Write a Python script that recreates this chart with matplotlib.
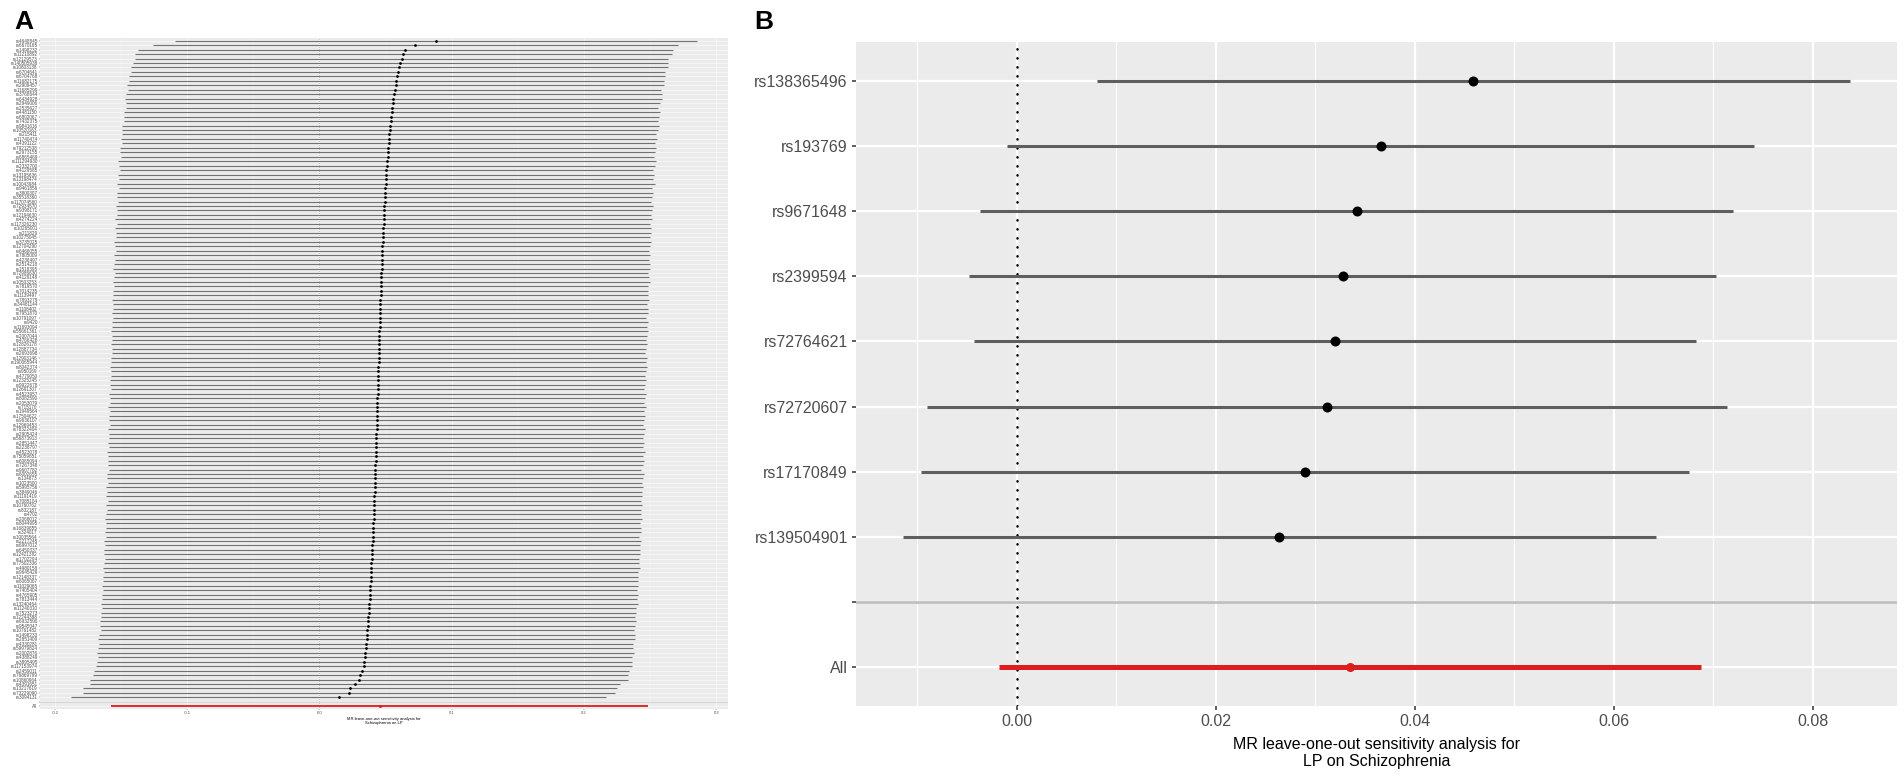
import matplotlib
matplotlib.use("Agg")
import matplotlib.pyplot as plt
import numpy as np

plt.rcParams["font.family"] = ["Liberation Sans", "DejaVu Sans"]

# ---------------------------------------------------------------- panel A data
# leave-one-out estimates, top row first (labels are illegible in the source)
SNPS_A = """
rs4648845 rs6670165 rs1498232 rs11210892 rs12129573 rs140505938 rs10803138 rs6704641 rs6704768 rs11682175
rs2909457 rs11685299 rs3768644 rs6434928 rs2949006 rs2535627 rs4481150 rs6802067 rs7432375 rs9841616
rs10520163 rs215411 rs11740474 rs4391122 rs79212538 rs2973155 rs6865469 rs111294930 rs2332700 rs4129585
rs13195636 rs13198474 rs10043984 rs9461856 rs3800307 rs35518360 rs117074560 rs72934570 rs9398171 rs12194630
rs4274224 rs117326230 rs10265001 rs211829 rs10275045 rs3735025 rs12704290 rs6466055 rs7805009 rs4236497
rs2514218 rs1518395 rs72986630 rs4129148 rs10503253 rs7819570 rs7014235 rs11139497 rs7893279 rs34481144
rs1108402 rs7951870 rs10791097 rs9420 rs11693094 rs55661361 rs2007044 rs4766428 rs12826178 rs12887734
rs2693698 rs12903146 rs190065944 rs8042374 rs950169 rs4779050 rs12325245 rs9922678 rs12691307 rs4523957
rs8082590 rs2053079 rs715170 rs1949564 rs17504622 rs9636107 rs12969453 rs78322404 rs2905424 rs56873913
rs2851447 rs2238797 rs4523078 rs75059851 rs6065094 rs7267348 rs9607782 rs6002655 rs134873 rs1023500
rs5995756 rs3849046 rs11191419 rs7085104 rs10760762 rs832187 rs4702 rs2068012 rs8044995 rs16839855
rs324017 rs10035564 rs2217245 rs6997012 rs6450337 rs12421382 rs1702294 rs77502336 rs4980158 rs9645429
rs12148337 rs6065007 rs11029065 rs7405404 rs4765905 rs7813444 rs13240464 rs11240310 rs7523273 rs12244388
rs6932590 rs9545047 rs10761482 rs1498233 rs2851409 rs4330281 rs59979824 rs2002876 rs4388249 rs3895495
rs117153974 rs2459011 rs76869799 rs10860964 rs4391651 rs13217619 rs73229090 rs3094131
""".split()

B_A = [
    0.0881, 0.0725, 0.0649, 0.0634, 0.0622, 0.0612, 0.0603, 0.0595, 0.0588, 0.0581,
    0.0575, 0.0569, 0.0564, 0.0559, 0.0554, 0.0550, 0.0546, 0.0542, 0.0538, 0.0535,
    0.0532, 0.0528, 0.0525, 0.0522, 0.0519, 0.0516, 0.0514, 0.0511, 0.0509, 0.0506,
    0.0504, 0.0502, 0.0500, 0.0498, 0.0496, 0.0494, 0.0492, 0.0490, 0.0489, 0.0487,
    0.0485, 0.0484, 0.0482, 0.0481, 0.0479, 0.0478, 0.0476, 0.0475, 0.0474, 0.0472,
    0.0471, 0.0470, 0.0468, 0.0467, 0.0466, 0.0465, 0.0463, 0.0462, 0.0461, 0.0460,
    0.0459, 0.0458, 0.0456, 0.0455, 0.0454, 0.0453, 0.0452, 0.0451, 0.0450, 0.0449,
    0.0448, 0.0447, 0.0446, 0.0445, 0.0444, 0.0443, 0.0442, 0.0441, 0.0440, 0.0439,
    0.0438, 0.0437, 0.0436, 0.0435, 0.0434, 0.0433, 0.0432, 0.0431, 0.0430, 0.0429,
    0.0428, 0.0427, 0.0426, 0.0425, 0.0424, 0.0423, 0.0422, 0.0421, 0.0420, 0.0419,
    0.0417, 0.0416, 0.0415, 0.0414, 0.0413, 0.0411, 0.0410, 0.0409, 0.0407, 0.0406,
    0.0404, 0.0403, 0.0401, 0.0400, 0.0398, 0.0397, 0.0395, 0.0393, 0.0391, 0.0390,
    0.0388, 0.0386, 0.0384, 0.0382, 0.0380, 0.0378, 0.0376, 0.0374, 0.0372, 0.0369,
    0.0367, 0.0364, 0.0362, 0.0359, 0.0356, 0.0353, 0.0350, 0.0347, 0.0343, 0.0339,
    0.0335, 0.0318, 0.0307, 0.0299, 0.0269, 0.0231, 0.0223, 0.0145,
]

SE_A = [
    0.1005, 0.1013, 0.1030, 0.1034, 0.1027, 0.1032, 0.1036, 0.1029, 0.1033, 0.1031,
    0.1035, 0.1028, 0.1032, 0.1037, 0.1030, 0.1026, 0.1034, 0.1031, 0.1029, 0.1036,
    0.1032, 0.1030, 0.1035, 0.1027, 0.1033, 0.1031, 0.1029, 0.1036, 0.1032, 0.1028,
    0.1034, 0.1030, 0.1037, 0.1029, 0.1033, 0.1031, 0.1026, 0.1035, 0.1032, 0.1030,
    0.1036, 0.1028, 0.1033, 0.1031, 0.1029, 0.1035, 0.1032, 0.1027, 0.1034, 0.1030,
    0.1033, 0.1036, 0.1029, 0.1031, 0.1035, 0.1028, 0.1032, 0.1030, 0.1037, 0.1029,
    0.1031, 0.1034, 0.1027, 0.1033, 0.1030, 0.1036, 0.1032, 0.1029, 0.1035, 0.1031,
    0.1028, 0.1033, 0.1030, 0.1036, 0.1032, 0.1029, 0.1034, 0.1031, 0.1027, 0.1035,
    0.1032, 0.1030, 0.1036, 0.1029, 0.1033, 0.1031, 0.1028, 0.1035, 0.1032, 0.1030,
    0.1034, 0.1029, 0.1037, 0.1031, 0.1033, 0.1030, 0.1026, 0.1035, 0.1032, 0.1029,
    0.1036, 0.1031, 0.1033, 0.1028, 0.1034, 0.1030, 0.1032, 0.1036, 0.1029, 0.1031,
    0.1033, 0.1027, 0.1035, 0.1030, 0.1032, 0.1034, 0.1029, 0.1031, 0.1036, 0.1028,
    0.1032, 0.1030, 0.1034, 0.1029, 0.1033, 0.1031, 0.1035, 0.1028, 0.1032, 0.1030,
    0.1034, 0.1031, 0.1029, 0.1033, 0.1036, 0.1030, 0.1032, 0.1035, 0.1029, 0.1031,
    0.1034, 0.1033, 0.1031, 0.1036, 0.1022, 0.1030, 0.1027, 0.1031,
]

ALL_B_A = 0.0455
ALL_SE_A = 0.1035
TICKS_A = [-0.2, -0.1, 0.0, 0.1, 0.2, 0.3]
XLABEL_A = "MR leave-one-out sensitivity analysis for\nSchizophrenia on LP"

# ---------------------------------------------------------------- panel B data
SNPS_B = ["rs138365496", "rs193769", "rs9671648", "rs2399594",
          "rs72764621", "rs72720607", "rs17170849", "rs139504901"]
B_B = [0.0459, 0.0366, 0.0342, 0.0328, 0.0320, 0.0312, 0.0290, 0.0264]
SE_B = [0.01930, 0.01915, 0.01930, 0.01915, 0.01850, 0.02050, 0.01970, 0.01930]
ALL_B_B = 0.0335
ALL_SE_B = 0.0180
TICKS_B = [0.00, 0.02, 0.04, 0.06, 0.08]
XLABEL_B = "MR leave-one-out sensitivity analysis for\nLP on Schizophrenia"

RED = "#DC1E1E"
W, H = 1904, 782


def draw_loo(ax, snps, b, se, all_b, all_se, xticks, fmt, xlabel, st):
    b = np.asarray(b)
    se = np.asarray(se)
    assert len(snps) == len(b) == len(se)
    lo, hi = b - 1.96 * se, b + 1.96 * se
    all_lo, all_hi = all_b - 1.96 * all_se, all_b + 1.96 * all_se

    n = len(snps)
    rows = np.arange(n)
    blank_row, all_row = n, n + 1

    # ggplot-like 5% expansion
    xmin = min(lo.min(), all_lo)
    xmax = max(hi.max(), all_hi)
    pad = 0.05 * (xmax - xmin)
    ax.set_xlim(xmin - pad, xmax + pad)
    ax.set_ylim(all_row + 0.6, -0.6)

    ax.set_facecolor("#EBEBEB")
    for sp in ax.spines.values():
        sp.set_visible(False)

    ax.set_yticks(list(rows) + [blank_row, all_row])
    ax.set_yticklabels(list(snps) + ["", "All"])
    ax.set_xticks(xticks)
    ax.set_xticklabels([fmt.format(t) for t in xticks])
    step = xticks[1] - xticks[0]
    minor = [t - step / 2 for t in xticks] + [xticks[-1] + step / 2]
    minor = [m for m in minor if xmin - pad < m < xmax + pad]
    ax.set_xticks(minor, minor=True)

    ax.set_axisbelow(True)
    ax.grid(which="major", color="white", lw=st["grid"])
    ax.grid(which="minor", axis="x", color="white", lw=st["grid"] * 0.5)
    ax.tick_params(which="minor", length=0)

    ax.axvline(0, color="black", lw=st["dot_lw"], ls=(0, (0.1, 3.5)),
               dash_capstyle="round", zorder=2)
    ax.hlines(rows, lo, hi, color=st["seg_c"], lw=st["seg"], zorder=3)
    ax.plot(b, rows, "o", color="black", ms=st["ms"], mew=0, zorder=4)
    ax.hlines(all_row, all_lo, all_hi, color=RED, lw=st["red"], zorder=3)
    ax.plot(all_b, all_row, "o", color=RED, ms=st["red_ms"], mew=0, zorder=4)
    ax.axhline(blank_row, color="#BEBEBE", lw=st["hline"], zorder=3)

    ax.tick_params(which="major", color="#333333", length=st["tick_len"],
                   width=st["tick_w"], pad=st["pad"], labelcolor="#4D4D4D")
    ax.tick_params(axis="y", labelsize=st["ylab"])
    ax.tick_params(axis="x", labelsize=st["xlab"])
    ax.set_xlabel(xlabel, fontsize=st["title"], labelpad=st["labelpad"],
                  linespacing=1.15)


fig = plt.figure(figsize=(W / 100, H / 100), dpi=100)

ax_a = fig.add_axes([40 / W, 1 - 709 / H, (728 - 40) / W, (709 - 38) / H])
draw_loo(ax_a, SNPS_A, B_A, SE_A, ALL_B_A, ALL_SE_A, TICKS_A, "{:.1f}", XLABEL_A,
         dict(grid=0.4, dot_lw=0.4, seg=0.8, seg_c="#727272", ms=2.0, red=1.3,
              red_ms=2.2, hline=0.4, tick_len=1.0, tick_w=0.3, pad=0.8,
              ylab=3.3, xlab=3.0, title=3.0, labelpad=1.0))

ax_b = fig.add_axes([855.5 / W, 1 - 706 / H, (1897 - 855.5) / W, (706 - 42) / H])
draw_loo(ax_b, SNPS_B, B_B, SE_B, ALL_B_B, ALL_SE_B, TICKS_B, "{:.2f}", XLABEL_B,
         dict(grid=1.6, dot_lw=1.8, seg=2.2, seg_c="#5E5E5E", ms=7.2, red=3.6,
              red_ms=6.5, hline=1.9, tick_len=3.0, tick_w=1.1, pad=2.5,
              ylab=11.5, xlab=11.5, title=11.5, labelpad=6.0))

fig.text(14 / W, 1 - 10 / H, "A", fontsize=19, fontweight="bold", va="top", ha="left")
fig.text(754 / W, 1 - 10 / H, "B", fontsize=19, fontweight="bold", va="top", ha="left")

fig.savefig("out.png", dpi=100)
